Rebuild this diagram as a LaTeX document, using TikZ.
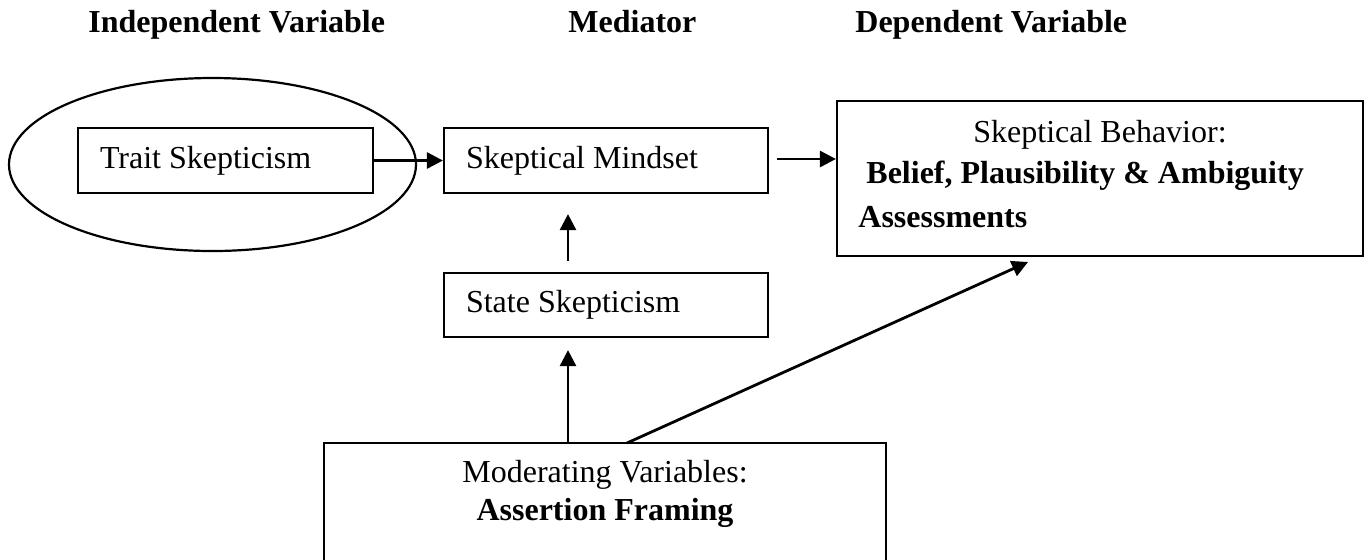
\documentclass[tikz,border=0pt]{standalone}
\usepackage{fontspec}
\setmainfont{Liberation Serif}
\usetikzlibrary{arrows.meta,shapes.geometric}
\begin{document}
\begin{tikzpicture}[x=0.5pt,y=-0.5pt,
  font=\fontsize{16pt}{20pt}\selectfont,
  box/.style={draw, line width=1.1pt, rectangle, inner sep=0pt},
  lbox/.style={box, inner xsep=11pt, inner ysep=0pt},
  txt/.style={inner sep=0pt},
  bf/.style={font=\fontsize{16pt}{20pt}\selectfont\bfseries},
  arr/.style={line width=1.4pt, -{Triangle[length=8pt,width=8pt]}}]
\useasboundingbox (0,0) rectangle (1369,559);
\clip (0,0) rectangle (1369,559);
% headers
\node[txt, bf, anchor=base west] (hiv) at (88,32) {Independent Variable};
\node[txt, bf, anchor=base west] (hmed) at (568,32) {Mediator};
\node[txt, bf, anchor=base west] (hdv) at (855,32) {Dependent Variable};
% ellipse
\node[draw, line width=1.1pt, ellipse, minimum width=203.5pt, minimum height=86.5pt, inner sep=0pt] (oval) at (212.5,164.5) {};
% boxes
\node[lbox, minimum height=32.5pt] (trait) at (225.5,160.5) {\makebox[125.5pt][l]{Trait Skepticism}};
\node[lbox, minimum height=32.5pt] (mind) at (606,160.5) {\makebox[140pt][l]{Skeptical Mindset}};
\node[lbox, minimum height=32pt] (state) at (606,305) {\makebox[140pt][l]{State Skepticism}};
\node[box, minimum width=263pt, minimum height=77.5pt] (beh) at (1100,178.5) {};
\node[txt, anchor=base] (behT) at (1100,142) {Skeptical Behavior:};
\node[txt, bf, anchor=base west] (behB) at (866,183) {Belief, Plausibility \& Ambiguity};
\node[txt, bf, anchor=base west] (behC) at (858,227) {Assessments};
\node[box, minimum width=281pt, minimum height=80pt] (mod) at (605,523) {};
\node[txt, anchor=base] (modT) at (605,482) {Moderating Variables:};
\node[txt, bf, anchor=base] (modB) at (605,520) {Assertion Framing};
% coordinates
\coordinate (vx) at (568,0);
\coordinate (dstart) at (627,443);
\coordinate (dend) at (1028,262);
\coordinate (mstart) at (777,159);
% arrows
\draw[arr] (trait.east) -- (mind.west);
\draw[arr] (mstart) -- (mstart -| beh.west);
\draw[arr, shorten <=5.5pt, shorten >=10pt] (state.north -| vx) -- (mind.south -| vx);
\draw[arr, shorten >=6pt] (mod.north -| vx) -- (state.south -| vx);
\draw[arr] (dstart) -- (dend);
\end{tikzpicture}
\end{document}
